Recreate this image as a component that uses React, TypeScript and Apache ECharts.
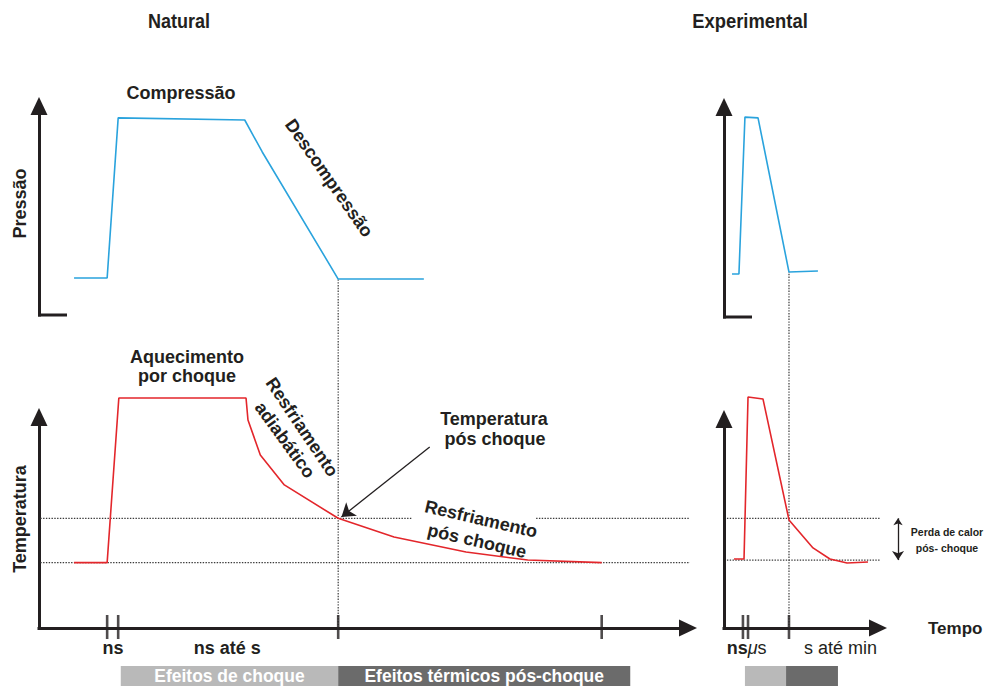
import React, { useEffect, useRef } from 'react';
import * as echarts from 'echarts';

const FONT = '"Liberation Sans", Arial, Helvetica, sans-serif';
const NARROW = '"Liberation Sans Narrow", "Arial Narrow", "Liberation Sans", Arial, sans-serif';
const INK = '#231f20';
const BLUE = '#2aa3dd';
const RED = '#e3262b';
const DOT = '#3a3a3a';

// ---------- Natural panel (arbitrary time units 0–100, arbitrary P / T units 0–100) ----------
const naturalPressure = [[5.4, 17.7], [10.5, 17.7], [12.2, 94.3], [31.7, 93.3], [34.4, 78], [46.1, 17.2], [59.3, 17.2]];
const naturalTemperature = [[5.4, 31], [10.5, 31], [12.3, 109], [31.9, 109], [32.2, 98.6], [34.1, 82], [37.8, 67.8], [46.1, 52], [54.7, 43.1], [65.8, 36], [75.3, 32.2], [86.7, 31]];
const naturalTicks = [10.5, 12.2, 46.1, 86.7];
const naturalTickLabels = [{ x: 11.4, text: 'ns' }, { x: 29, text: 'ns até s' }];
const naturalPhases = [
  { start: 12.6, end: 46.1, label: 'Efeitos de choque', tone: 'light' },
  { start: 46.1, end: 91.1, label: 'Efeitos térmicos pós-choque', tone: 'dark' },
];
const naturalPostShockLineA = [[0.2, 52], [57.5, 52]];
const naturalPostShockLineB = [[76.6, 52], [100.2, 52]];
const naturalBaseLine = [[0.2, 31], [100.5, 31]];
const naturalShockEnd = [[46.1, 0], [46.1, 165.4]];
const naturalPointer = [[60.2, 85.8], [46.6, 52.6]];

// ---------- Experimental panel ----------
const expPressure = [[5.2, 20.5], [9.7, 20.5], [13.6, 95.2], [22.1, 94.8], [42.2, 21.4], [61, 21.9]];
const expTemperature = [[6.5, 33], [13, 33], [15.6, 110.5], [25.3, 109.6], [42.2, 51.7], [57.8, 38.3], [68.8, 33], [79.9, 31.1], [93.5, 31.6]];
const expTicks = [12.3, 15.6, 42.2];
const expTickLabels = [{ x: 14.7, text: '{b|ns}{m|μ}{n|s}' }, { x: 75.6, text: '{n|s até min}' }];
const expPhases = [
  { start: 13.6, end: 40.3, label: '', tone: 'light' },
  { start: 40.3, end: 74, label: '', tone: 'dark' },
];
const expPostShockLine = [[1.9, 52.5], [136.4, 52.5]];
const expBaseLine = [[1.9, 32.5], [136.4, 32.5]];
const expShockEnd = [[42.2, 0], [42.2, 170.3]];
const expHeatLoss = [[113, 52.5], [113, 32.5]];

const toneColor: Record<string, string> = { light: '#b9b9b9', dark: '#6b6b6b' };

function axisPair(gridIndex: number, showX: boolean, yName?: string, yNamePad = 0, xName?: string) {
  const axisLine = {
    show: true,
    onZero: false,
    symbol: ['none', 'triangle'],
    symbolSize: [17, 18],
    lineStyle: { color: INK, width: 3, cap: 'square' },
  };
  const x: any = {
    type: 'value', gridIndex, min: 0, max: 100, show: showX,
    axisLine, axisTick: { show: false }, axisLabel: { show: false }, splitLine: { show: false },
  };
  if (xName) {
    x.name = xName;
    x.nameLocation = 'end';
    x.nameGap = 50;
    x.nameTextStyle = { fontFamily: FONT, fontWeight: 'bold', fontSize: 17, color: INK, verticalAlign: 'middle' };
  }
  const y: any = {
    type: 'value', gridIndex, min: 0, max: 100,
    axisLine, axisTick: { show: false }, axisLabel: { show: false }, splitLine: { show: false },
  };
  if (yName) {
    y.name = yName;
    y.nameLocation = 'middle';
    y.nameGap = 10;
    y.nameRotate = 90;
    y.nameTextStyle = { fontFamily: FONT, fontWeight: 'bold', fontSize: 18, color: INK, padding: [0, 0, 0, yNamePad] };
  }
  return { x, y };
}

function lineSeries(idx: number, data: number[][], color: string, width = 1.6, dotted = false) {
  return {
    type: 'line', xAxisIndex: idx, yAxisIndex: idx, data, symbol: 'none', clip: false, silent: true,
    lineStyle: dotted ? { color, width: 1.2, type: [1.4, 1.4] } : { color, width },
    z: dotted ? 1 : 3,
  };
}

function tickSeries(idx: number, ticks: number[]) {
  return {
    type: 'scatter', xAxisIndex: idx, yAxisIndex: idx, clip: false, silent: true,
    data: ticks.map((t) => [t, 0]),
    symbol: 'rect', symbolSize: [2.6, 24], symbolOffset: [0, -1],
    itemStyle: { color: INK }, z: 5,
  };
}

function tickLabelSeries(idx: number, labels: { x: number; text: string }[], rich: boolean) {
  return {
    type: 'custom', xAxisIndex: idx, yAxisIndex: idx, silent: true,
    data: labels.map((l) => [l.x, 0]),
    renderItem: (params: any, api: any) => {
      const p = api.coord([api.value(0), 0]);
      const l = labels[params.dataIndex];
      const style: any = {
        text: l.text, align: 'center', verticalAlign: 'middle', fill: INK,
        font: `bold 18px ${FONT}`,
      };
      if (rich) {
        style.rich = {
          b: { fontFamily: FONT, fontWeight: 'bold', fontSize: 18, fill: INK, color: INK },
          m: { fontFamily: FONT, fontStyle: 'italic', fontSize: 18, fill: INK, color: INK },
          n: { fontFamily: FONT, fontWeight: 'normal', fontSize: 18, fill: INK, color: INK },
        };
      }
      return { type: 'text', x: p[0], y: p[1] + 20, style };
    },
  };
}

function phaseSeries(idx: number, phases: { start: number; end: number; label: string; tone: string }[]) {
  return {
    type: 'custom', xAxisIndex: idx, yAxisIndex: idx, silent: true,
    data: phases.map((p) => [p.start, p.end]),
    renderItem: (params: any, api: any) => {
      const ph = phases[params.dataIndex];
      const a = api.coord([api.value(0), 0]);
      const b = api.coord([api.value(1), 0]);
      const top = a[1] + 38;
      const h = 20;
      return {
        type: 'group',
        children: [
          { type: 'rect', shape: { x: a[0], y: top, width: b[0] - a[0], height: h }, style: { fill: toneColor[ph.tone] } },
          {
            type: 'text', x: (a[0] + b[0]) / 2, y: top + h / 2, scaleX: 0.97,
            style: { text: ph.label, align: 'center', verticalAlign: 'middle', fill: '#ffffff', font: `bold 18px ${NARROW}` },
          },
        ],
      };
    },
  };
}

function arrowSeries(idx: number, coords: number[][], both: boolean, size: number | number[]) {
  return {
    type: 'lines', coordinateSystem: 'cartesian2d', xAxisIndex: idx, yAxisIndex: idx, clip: false, silent: true,
    polyline: false,
    data: [{ coords }],
    symbol: both ? ['arrow', 'arrow'] : ['none', 'arrow'],
    symbolSize: size,
    lineStyle: { color: INK, width: 1.3, opacity: 1, curveness: 0 },
    z: 6,
  };
}

function txt(text: string, x: number, y: number, size = 18, rotDeg = 0, family = FONT, scaleX = 1) {
  return {
    type: 'text', x, y, rotation: (rotDeg * Math.PI) / 180, scaleX, silent: true,
    style: { text, align: 'center', verticalAlign: 'middle', fill: INK, font: `bold ${size}px ${family}` },
  };
}

export default function App() {
  const ref = useRef<HTMLDivElement>(null);
  useEffect(() => {
    document.body.style.margin = '0';
    if (!ref.current) return;
    const chart = echarts.init(ref.current, null, { renderer: 'svg' });
    const np = axisPair(0, false, 'Pressão', 14);
    const nt = axisPair(1, true, 'Temperatura', 7);
    const ep = axisPair(2, false);
    const et = axisPair(3, true, undefined, 0, 'Tempo');

    const option: any = {
      animation: false,
      backgroundColor: '#ffffff',
      grid: [
        { left: 39, top: 106, width: 649, height: 209 },
        { left: 39, top: 417, width: 649, height: 211 },
        { left: 724, top: 107, width: 154, height: 210 },
        { left: 724, top: 419, width: 154, height: 209 },
      ],
      xAxis: [np.x, nt.x, ep.x, et.x],
      yAxis: [np.y, nt.y, ep.y, et.y],
      series: [
        lineSeries(1, naturalPostShockLineA, DOT, 1.2, true),
        lineSeries(1, naturalPostShockLineB, DOT, 1.2, true),
        lineSeries(1, naturalBaseLine, DOT, 1.2, true),
        lineSeries(1, naturalShockEnd, DOT, 1.2, true),
        lineSeries(3, expPostShockLine, DOT, 1.2, true),
        lineSeries(3, expBaseLine, DOT, 1.2, true),
        lineSeries(3, expShockEnd, DOT, 1.2, true),
        lineSeries(0, naturalPressure, BLUE),
        lineSeries(1, naturalTemperature, RED),
        lineSeries(2, expPressure, BLUE),
        lineSeries(3, expTemperature, RED),
        tickSeries(1, naturalTicks),
        tickSeries(3, expTicks),
        tickLabelSeries(1, naturalTickLabels, false),
        tickLabelSeries(3, expTickLabels, true),
        phaseSeries(1, naturalPhases),
        phaseSeries(3, expPhases),
        arrowSeries(1, naturalPointer, false, [11, 13]),
        arrowSeries(3, expHeatLoss, true, [7, 9]),
      ],
      graphic: [
        { type: 'line', silent: true, shape: { x1: 38, y1: 315, x2: 67, y2: 315 }, style: { stroke: INK, lineWidth: 3 } },
        { type: 'line', silent: true, shape: { x1: 723, y1: 317, x2: 752, y2: 317 }, style: { stroke: INK, lineWidth: 3 } },
        txt('Natural', 179, 21, 20, 0, NARROW, 0.9),
        txt('Experimental', 750, 21, 20, 0, NARROW, 0.92),
        txt('Compressão', 181, 93),
        txt('Descompressão', 329, 178, 18, -55),
        txt('Aquecimento', 187, 357),
        txt('por choque', 187, 376),
        txt('Resfriamento', 302, 427, 18, -56),
        txt('adiabático', 285, 440, 18, -54),
        txt('Temperatura', 494, 419),
        txt('pós choque', 495, 439),
        txt('Resfriamento', 481, 519, 18, -13),
        txt('pós choque', 477, 541, 18, -13),
        txt('Perda de calor', 947, 532, 10.5),
        txt('pós- choque', 947, 548, 10.5),
      ],
    };
    chart.setOption(option);
    return () => chart.dispose();
  }, []);
  return <div ref={ref} style={{ width: 994, height: 686 }} />;
}
